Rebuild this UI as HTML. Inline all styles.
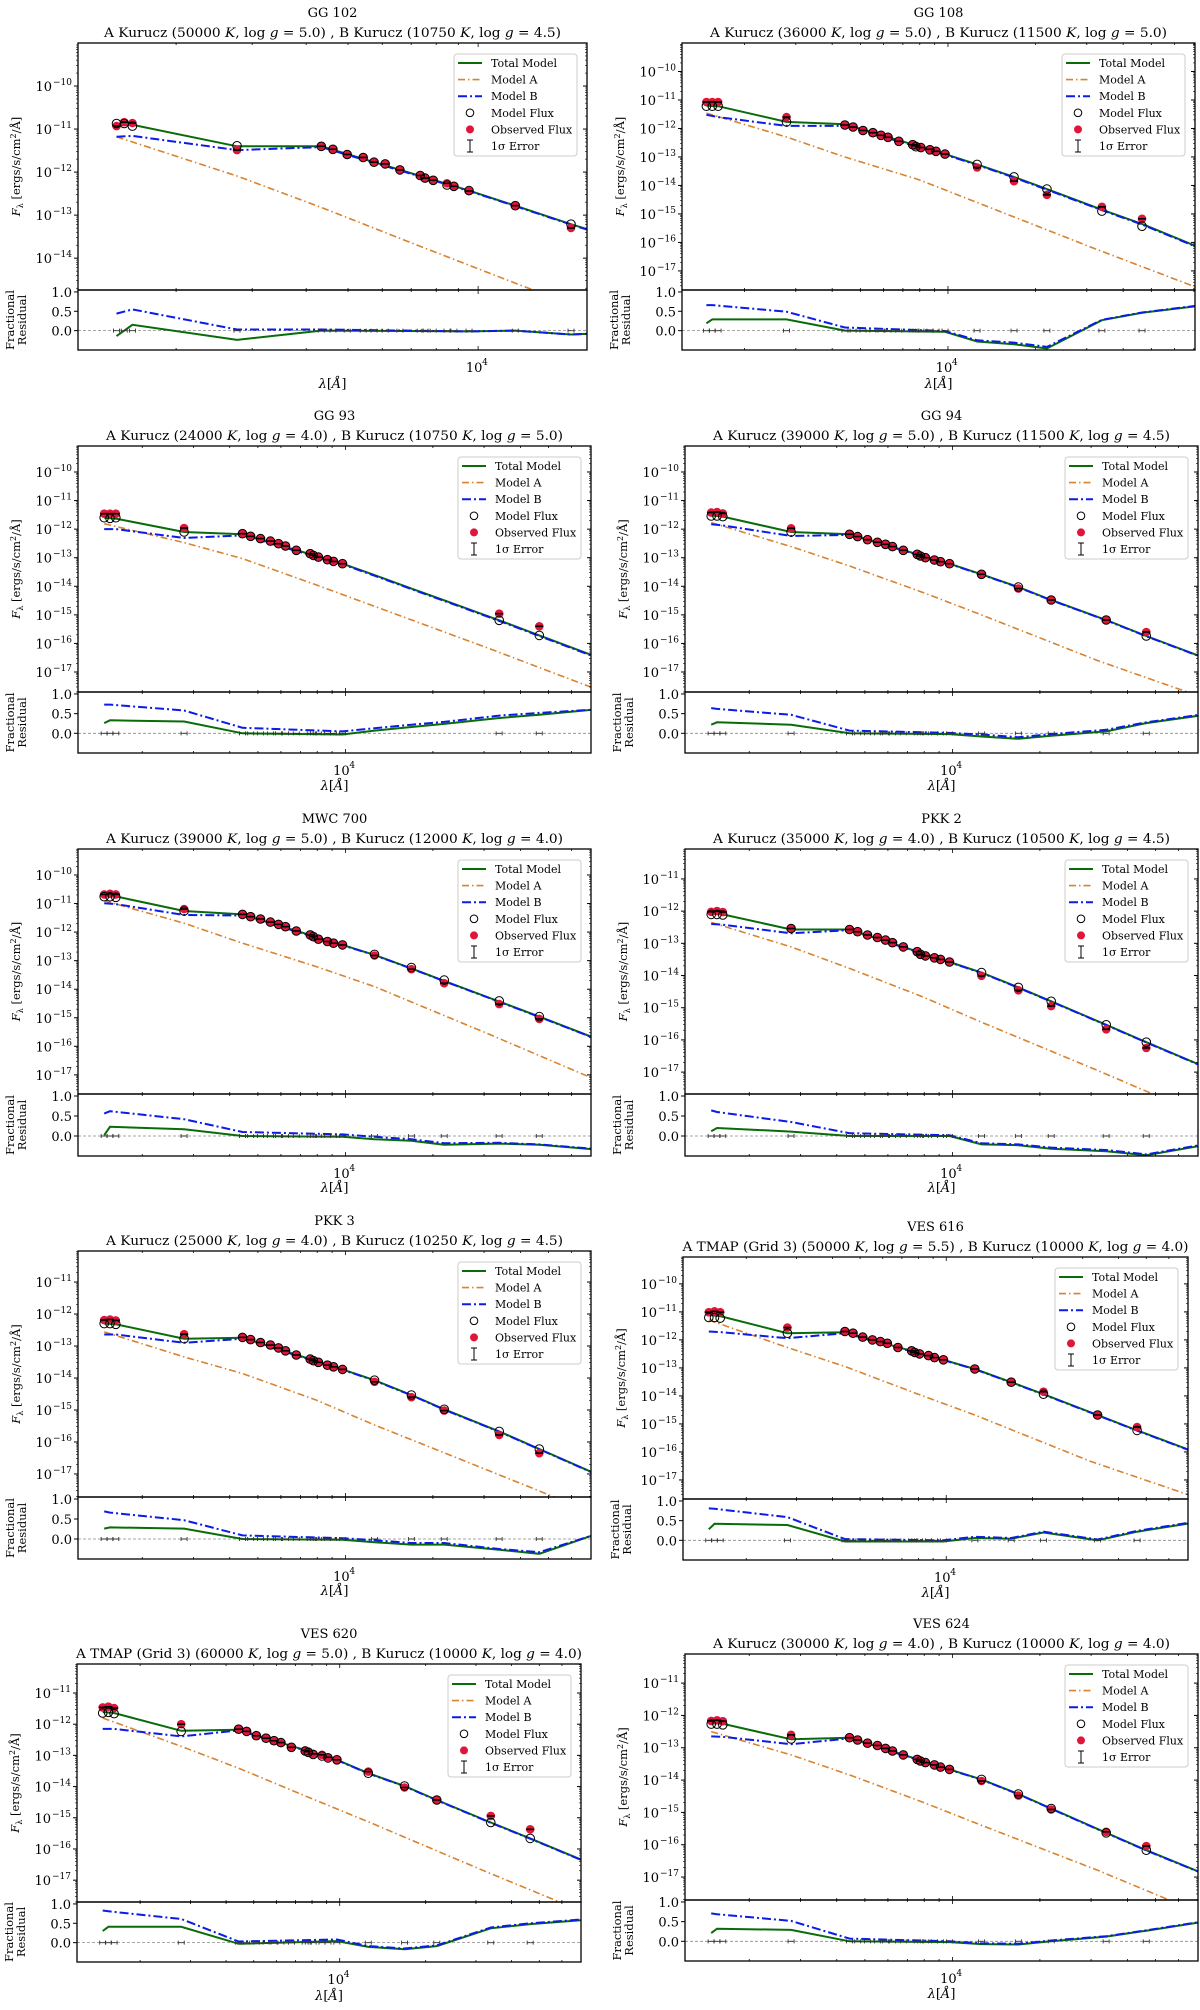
<!DOCTYPE html>
<html><head><meta charset="utf-8"><title>SED fits</title>
<style>
html,body{margin:0;padding:0;background:#fff;}
svg{display:block;font-family:"DejaVu Serif","Liberation Serif",serif;}
</style></head>
<body>
<svg id="chart" xmlns="http://www.w3.org/2000/svg" width="1200" height="2010" viewBox="0 0 1200 2010"></svg>
<script>
// ---------- data (log10 wavelength [A], log10 flux) ----------
const lw_all = [3.17,3.19,3.21,3.445,3.646,3.674,3.708,3.742,3.770,3.794,3.831,3.879,3.890,3.907,3.938,3.959,3.990,4.10,4.227,4.34,4.529,4.667];
const lw_gg102 = [3.163,3.181,3.200,3.442,3.637,3.664,3.697,3.734,3.759,3.785,3.819,3.866,3.877,3.896,3.928,3.944,3.979,4.086,4.215];
const lw_gg93 = [3.17,3.19,3.21,3.445,3.646,3.674,3.708,3.742,3.770,3.794,3.831,3.879,3.890,3.907,3.938,3.959,3.990,4.529,4.667];
const nodes_model = [3.17,3.21,3.445,3.646,3.99,4.10,4.227,4.34,4.529,4.667,4.85];
const nodes_resid = [3.17,3.19,3.445,3.646,3.99,4.10,4.227,4.34,4.529,4.667,4.85];
const nodes_A = [3.17,3.445,3.646,3.9,4.1,4.5,4.85];
const nodes_model_gg102 = [3.163,3.200,3.442,3.637,3.979,4.086,4.215,4.26];
const nodes_A_gg102 = [3.163,3.442,3.637,3.87,4.127,4.26];
const resTicks = [1.0,0.5,0.0];
const resTickLabels = ["1.0","0.5","0.0"];

const obs_gg102 = [-10.93,-10.84,-10.86,-11.49,-11.40,-11.47,-11.59,-11.66,-11.77,-11.81,-11.95,-12.08,-12.14,-12.19,-12.26,-12.33,-12.44,-12.78,-13.30];
const mod_gg102 = [-10.87,-10.87,-10.93,-11.39,-11.40,-11.47,-11.59,-11.66,-11.77,-11.81,-11.95,-12.08,-12.14,-12.19,-12.30,-12.33,-12.43,-12.78,-13.21];
const tot_gg102 = [-10.91,-10.9,-11.4,-11.4,-12.43,-12.78,-13.21,-13.35];
const B_gg102 = [-11.18,-11.16,-11.49,-11.42,-12.44,-12.79,-13.22,-13.36];
const A_gg102 = [-11.18,-12.09,-12.82,-13.74,-14.74,-15.2];
const rtot_gg102 = [-0.14,0.15,-0.24,0.0,-0.02,0.0,-0.1,-0.08];
const rB_gg102 = [0.44,0.55,0.03,0.03,-0.02,0.0,-0.1,-0.08];

const obs_gg108 = [-11.07,-11.07,-11.07,-11.6,-11.88,-11.95,-12.07,-12.15,-12.24,-12.31,-12.45,-12.57,-12.61,-12.67,-12.73,-12.80,-12.9,-13.37,-13.85,-14.33,-14.75,-15.17];
const mod_gg108 = [-11.22,-11.22,-11.22,-11.77,-11.88,-11.95,-12.07,-12.15,-12.24,-12.31,-12.45,-12.57,-12.64,-12.67,-12.75,-12.80,-12.9,-13.26,-13.70,-14.13,-14.9,-15.43];
const tot_gg108 = [-11.2,-11.22,-11.77,-11.85,-12.9,-13.26,-13.7,-14.13,-14.85,-15.35,-16.12];
const B_gg108 = [-11.52,-11.6,-11.91,-11.91,-12.92,-13.28,-13.72,-14.15,-14.87,-15.37,-16.14];
const A_gg108 = [-11.46,-12.3,-13.0,-13.8,-14.6,-16.2,-17.56];
const rtot_gg108 = [0.19,0.29,0.29,0,-0.03,-0.28,-0.35,-0.46,0.27,0.46,0.63];
const rB_gg108 = [0.66,0.66,0.49,0.08,-0.01,-0.25,-0.31,-0.42,0.28,0.47,0.64];

const obs_gg93 = [-11.46,-11.46,-11.46,-11.96,-12.16,-12.25,-12.33,-12.42,-12.51,-12.59,-12.74,-12.86,-12.92,-12.98,-13.07,-13.13,-13.21,-14.96,-15.40];
const mod_gg93 = [-11.6,-11.62,-11.6,-12.1,-12.16,-12.25,-12.33,-12.42,-12.51,-12.59,-12.74,-12.86,-12.92,-12.98,-13.07,-13.13,-13.21,-15.19,-15.72];
const tot_gg93 = [-11.6,-11.63,-12.1,-12.18,-13.21,-13.61,-14.08,-14.49,-15.19,-15.72,-16.42];
const B_gg93 = [-12.0,-12.0,-12.31,-12.22,-13.23,-13.63,-14.1,-14.51,-15.21,-15.74,-16.44];
const A_gg93 = [-11.81,-12.47,-13.03,-13.95,-14.7,-16.2,-17.55];
const rtot_gg93 = [0.26,0.33,0.3,0,-0.03,0.07,0.16,0.24,0.39,0.47,0.6];
const rB_gg93 = [0.73,0.73,0.58,0.14,0.05,0.13,0.22,0.29,0.45,0.52,0.6];

const obs_gg94 = [-11.42,-11.40,-11.45,-11.97,-12.18,-12.26,-12.37,-12.46,-12.53,-12.61,-12.74,-12.88,-12.94,-13.0,-13.08,-13.14,-13.21,-13.58,-14.08,-14.48,-15.18,-15.6];
const mod_gg94 = [-11.54,-11.54,-11.56,-12.1,-12.18,-12.26,-12.37,-12.46,-12.53,-12.61,-12.74,-12.88,-12.94,-13.0,-13.08,-13.14,-13.21,-13.58,-14.03,-14.48,-15.18,-15.74];
const tot_gg94 = [-11.52,-11.56,-12.1,-12.18,-13.21,-13.58,-14.03,-14.48,-15.18,-15.74,-16.44];
const B_gg94 = [-11.83,-11.87,-12.24,-12.2,-13.22,-13.59,-14.04,-14.49,-15.19,-15.75,-16.45];
const A_gg94 = [-11.77,-12.61,-13.29,-14.22,-15.0,-16.6,-17.85];
const rtot_gg94 = [0.22,0.28,0.22,0,-0.02,-0.08,-0.14,-0.06,0.05,0.26,0.45];
const rB_gg94 = [0.64,0.62,0.47,0.07,0.01,-0.03,-0.1,-0.02,0.09,0.28,0.47];

const obs_mwc700 = [-10.68,-10.66,-10.68,-11.19,-11.38,-11.46,-11.54,-11.65,-11.73,-11.81,-11.96,-12.1,-12.16,-12.25,-12.33,-12.39,-12.45,-12.82,-13.30,-13.79,-14.52,-15.04];
const mod_mwc700 = [-10.76,-10.76,-10.78,-11.26,-11.38,-11.46,-11.54,-11.65,-11.73,-11.81,-11.96,-12.1,-12.16,-12.25,-12.33,-12.39,-12.45,-12.78,-13.24,-13.68,-14.41,-14.96];
const tot_mwc700 = [-10.68,-10.75,-11.26,-11.38,-12.45,-12.8,-13.27,-13.71,-14.43,-14.96,-15.68];
const B_mwc700 = [-10.99,-11.02,-11.4,-11.42,-12.46,-12.81,-13.28,-13.72,-14.44,-14.97,-15.69];
const A_mwc700 = [-10.9,-11.69,-12.39,-13.21,-13.91,-15.6,-17.12];
const rtot_mwc700 = [0.02,0.23,0.17,0,-0.02,-0.08,-0.12,-0.22,-0.19,-0.22,-0.33];
const rB_mwc700 = [0.56,0.62,0.42,0.1,0.04,-0.02,-0.08,-0.18,-0.17,-0.21,-0.32];

const obs_pkk2 = [-12.02,-12.0,-12.03,-12.54,-12.57,-12.64,-12.74,-12.82,-12.9,-12.98,-13.11,-13.26,-13.34,-13.39,-13.45,-13.5,-13.58,-14.01,-14.46,-14.95,-15.67,-16.25];
const mod_pkk2 = [-12.1,-12.1,-12.12,-12.54,-12.57,-12.64,-12.74,-12.82,-12.9,-12.98,-13.11,-13.26,-13.34,-13.39,-13.45,-13.5,-13.58,-13.91,-14.37,-14.8,-15.53,-16.07];
const tot_pkk2 = [-12.07,-12.1,-12.57,-12.57,-13.58,-13.91,-14.37,-14.8,-15.53,-16.07,-16.77];
const B_pkk2 = [-12.4,-12.42,-12.69,-12.59,-13.59,-13.92,-14.38,-14.81,-15.54,-16.08,-16.78];
const A_pkk2 = [-12.35,-13.11,-13.78,-14.67,-15.45,-16.95,-18.3];
const rtot_pkk2 = [0.12,0.2,0.11,0,0,-0.21,-0.23,-0.32,-0.38,-0.48,-0.25];
const rB_pkk2 = [0.64,0.6,0.35,0.07,0.02,-0.18,-0.21,-0.29,-0.35,-0.46,-0.23];

const obs_pkk3 = [-12.19,-12.17,-12.2,-12.63,-12.73,-12.8,-12.89,-12.97,-13.06,-13.15,-13.28,-13.41,-13.46,-13.51,-13.6,-13.65,-13.73,-14.12,-14.6,-15.02,-15.78,-16.35];
const mod_pkk3 = [-12.3,-12.3,-12.32,-12.77,-12.73,-12.8,-12.89,-12.97,-13.06,-13.15,-13.28,-13.41,-13.46,-13.51,-13.6,-13.65,-13.73,-14.07,-14.53,-14.98,-15.67,-16.22];
const tot_pkk3 = [-12.3,-12.32,-12.77,-12.74,-13.73,-14.07,-14.53,-14.98,-15.67,-16.22,-16.95];
const B_pkk3 = [-12.64,-12.64,-12.9,-12.77,-13.74,-14.08,-14.54,-14.99,-15.68,-16.23,-16.96];
const A_pkk3 = [-12.56,-13.34,-13.86,-14.69,-15.47,-16.92,-18.2];
const rtot_pkk3 = [0.26,0.29,0.26,0,-0.02,-0.08,-0.14,-0.14,-0.27,-0.37,0.09];
const rB_pkk3 = [0.69,0.66,0.47,0.09,0.02,-0.03,-0.1,-0.1,-0.25,-0.33,0.09];

const obs_ves616 = [-11.01,-10.98,-11.01,-11.56,-11.70,-11.76,-11.9,-12.0,-12.06,-12.12,-12.27,-12.39,-12.45,-12.5,-12.56,-12.63,-12.71,-13.04,-13.51,-13.85,-14.68,-15.11];
const mod_ves616 = [-11.2,-11.2,-11.22,-11.76,-11.70,-11.76,-11.9,-12.0,-12.06,-12.12,-12.27,-12.39,-12.45,-12.5,-12.56,-12.63,-12.71,-13.04,-13.51,-13.94,-14.68,-15.23];
const tot_ves616 = [-11.11,-11.15,-11.76,-11.73,-12.71,-13.04,-13.51,-13.94,-14.68,-15.23,-15.93];
const B_ves616 = [-11.7,-11.72,-11.94,-11.76,-12.72,-13.05,-13.52,-13.95,-14.69,-15.24,-15.94];
const A_ves616 = [-11.29,-12.27,-12.95,-13.93,-14.68,-16.32,-17.54];
const rtot_ves616 = [0.28,0.42,0.39,-0.03,-0.03,0.06,0.04,0.2,0,0.22,0.43];
const rB_ves616 = [0.81,0.8,0.59,0.03,0.0,0.09,0.06,0.22,0.02,0.24,0.45];

const obs_ves620 = [-11.46,-11.44,-11.48,-12.0,-12.16,-12.23,-12.37,-12.45,-12.53,-12.59,-12.74,-12.84,-12.88,-12.95,-12.98,-13.06,-13.14,-13.52,-14.03,-14.43,-14.94,-15.37];
const mod_ves620 = [-11.64,-11.62,-11.66,-12.23,-12.16,-12.23,-12.37,-12.45,-12.53,-12.59,-12.74,-12.86,-12.9,-12.97,-13.02,-13.08,-13.14,-13.57,-13.98,-14.43,-15.15,-15.66];
const tot_ves620 = [-11.61,-11.64,-12.21,-12.18,-13.14,-13.57,-13.98,-14.43,-15.15,-15.66,-16.36];
const B_ves620 = [-12.15,-12.15,-12.39,-12.2,-13.15,-13.58,-13.99,-14.44,-15.16,-15.67,-16.37];
const A_ves620 = [-11.8,-12.71,-13.41,-14.38,-15.13,-16.68,-18.0];
const rtot_ves620 = [0.3,0.41,0.41,-0.03,0.04,-0.11,-0.17,-0.09,0.37,0.48,0.58];
const rB_ves620 = [0.83,0.81,0.61,0.03,0.08,-0.09,-0.15,-0.07,0.39,0.5,0.6];

const obs_ves624 = [-12.17,-12.15,-12.18,-12.6,-12.69,-12.76,-12.86,-12.93,-13.02,-13.1,-13.22,-13.36,-13.41,-13.46,-13.53,-13.6,-13.67,-14.03,-14.48,-14.91,-15.6,-16.04];
const mod_ves624 = [-12.27,-12.27,-12.29,-12.73,-12.69,-12.76,-12.86,-12.93,-13.02,-13.1,-13.22,-13.36,-13.41,-13.46,-13.53,-13.6,-13.67,-13.98,-14.43,-14.88,-15.63,-16.17];
const tot_ves624 = [-12.24,-12.26,-12.74,-12.69,-13.67,-13.98,-14.43,-14.88,-15.63,-16.17,-16.84];
const B_ves624 = [-12.65,-12.66,-12.89,-12.71,-13.68,-13.99,-14.44,-14.89,-15.64,-16.18,-16.85];
const A_ves624 = [-12.5,-13.22,-13.84,-14.69,-15.4,-16.79,-18.1];
const rtot_ves624 = [0.21,0.32,0.29,0,-0.02,-0.07,-0.08,0,0.12,0.27,0.48];
const rB_ves624 = [0.71,0.69,0.52,0.07,0.0,-0.05,-0.06,0.02,0.13,0.28,0.49];

const names = ["GG 102","GG 108","GG 93","GG 94","MWC 700","PKK 2","PKK 3","VES 616","VES 620","VES 624"];
const subtitles = [
 "A Kurucz (50000 K, log g = 5.0) , B Kurucz (10750 K, log g = 4.5)",
 "A Kurucz (36000 K, log g = 5.0) , B Kurucz (11500 K, log g = 5.0)",
 "A Kurucz (24000 K, log g = 4.0) , B Kurucz (10750 K, log g = 5.0)",
 "A Kurucz (39000 K, log g = 5.0) , B Kurucz (11500 K, log g = 4.5)",
 "A Kurucz (39000 K, log g = 5.0) , B Kurucz (12000 K, log g = 4.0)",
 "A Kurucz (35000 K, log g = 4.0) , B Kurucz (10500 K, log g = 4.5)",
 "A Kurucz (25000 K, log g = 4.0) , B Kurucz (10250 K, log g = 4.5)",
 "A TMAP (Grid 3) (50000 K, log g = 5.5) , B Kurucz (10000 K, log g = 4.0)",
 "A TMAP (Grid 3) (60000 K, log g = 5.0) , B Kurucz (10000 K, log g = 4.0)",
 "A Kurucz (30000 K, log g = 4.0) , B Kurucz (10000 K, log g = 4.0)"
];
const legendLabels = ["Total Model","Model A","Model B","Model Flux","Observed Flux","1σ Error"];

// ---------- layout (geometry only) ----------
const panels = [
 {id:"gg102", L:78, R:587, T:43, MB:290, RB:350, yT:-9.0, yB:-14.74, xmin:3.074, xmax:4.252, lw:lw_gg102, obs:obs_gg102, mod:mod_gg102, nM:nodes_model_gg102, tot:tot_gg102, B:B_gg102, nA:nodes_A_gg102, A:A_gg102, nR:nodes_model_gg102, rT:rtot_gg102, rB:rB_gg102},
 {id:"gg108", L:682, R:1195, T:43, MB:290, RB:350, yT:-9.0, yB:-17.67, xmin:3.086, xmax:4.849, lw:lw_all, obs:obs_gg108, mod:mod_gg108, nM:nodes_model, tot:tot_gg108, B:B_gg108, nA:nodes_A, A:A_gg108, nR:nodes_resid, rT:rtot_gg108, rB:rB_gg108},
 {id:"gg93", L:78, R:591, T:446, MB:692, RB:753, yT:-9.09, yB:-17.7, xmin:3.08, xmax:4.845, lw:lw_gg93, obs:obs_gg93, mod:mod_gg93, nM:nodes_model, tot:tot_gg93, B:B_gg93, nA:nodes_A, A:A_gg93, nR:nodes_resid, rT:rtot_gg93, rB:rB_gg93},
 {id:"gg94", L:685, R:1198, T:446, MB:692, RB:753, yT:-9.09, yB:-17.7, xmin:3.08, xmax:4.845, lw:lw_all, obs:obs_gg94, mod:mod_gg94, nM:nodes_model, tot:tot_gg94, B:B_gg94, nA:nodes_A, A:A_gg94, nR:nodes_resid, rT:rtot_gg94, rB:rB_gg94},
 {id:"mwc700", L:78, R:591, T:849, MB:1094, RB:1156, yT:-9.09, yB:-17.67, xmin:3.08, xmax:4.845, lw:lw_all, obs:obs_mwc700, mod:mod_mwc700, nM:nodes_model, tot:tot_mwc700, B:B_mwc700, nA:nodes_A, A:A_mwc700, nR:nodes_resid, rT:rtot_mwc700, rB:rB_mwc700},
 {id:"pkk2", L:685, R:1198, T:849, MB:1094, RB:1156, yT:-10.07, yB:-17.68, xmin:3.08, xmax:4.845, lw:lw_all, obs:obs_pkk2, mod:mod_pkk2, nM:nodes_model, tot:tot_pkk2, B:B_pkk2, nA:nodes_A, A:A_pkk2, nR:nodes_resid, rT:rtot_pkk2, rB:rB_pkk2},
 {id:"pkk3", L:78, R:591, T:1251, MB:1497, RB:1559, yT:-10.03, yB:-17.72, xmin:3.08, xmax:4.845, lw:lw_all, obs:obs_pkk3, mod:mod_pkk3, nM:nodes_model, tot:tot_pkk3, B:B_pkk3, nA:nodes_A, A:A_pkk3, nR:nodes_resid, rT:rtot_pkk3, rB:rB_pkk3},
 {id:"ves616", L:683, R:1188, T:1257, MB:1499, RB:1560, yT:-9.04, yB:-17.68, xmin:3.08, xmax:4.845, lw:lw_all, obs:obs_ves616, mod:mod_ves616, nM:nodes_model, tot:tot_ves616, B:B_ves616, nA:nodes_A, A:A_ves616, nR:nodes_resid, rT:rtot_ves616, rB:rB_ves616},
 {id:"ves620", L:77, R:581, T:1664, MB:1902, RB:1962, yT:-10.07, yB:-17.7, xmin:3.08, xmax:4.845, lw:lw_all, obs:obs_ves620, mod:mod_ves620, nM:nodes_model, tot:tot_ves620, B:B_ves620, nA:nodes_A, A:A_ves620, nR:nodes_resid, rT:rtot_ves620, rB:rB_ves620},
 {id:"ves624", L:685, R:1198, T:1654, MB:1900, RB:1961, yT:-10.1, yB:-17.71, xmin:3.08, xmax:4.845, lw:lw_all, obs:obs_ves624, mod:mod_ves624, nM:nodes_model, tot:tot_ves624, B:B_ves624, nA:nodes_A, A:A_ves624, nR:nodes_resid, rT:rtot_ves624, rB:rB_ves624}
];

const NS = "http://www.w3.org/2000/svg";
const svg = document.getElementById("chart");
function mk(tag, attrs, parent){ const e = document.createElementNS(NS, tag); for (const k in attrs) e.setAttribute(k, attrs[k]); (parent || svg).appendChild(e); return e; }
const GREEN = "#0a6b0a", ORANGE = "#d8832f", BLUE = "#0b1be8", RED = "#e0153a";

panels.forEach((p, i) => {
  const g = mk("g", {});
  
  
  const xS = v => p.L + (v - p.xmin) / (p.xmax - p.xmin) * (p.R - p.L);
  const yS = v => p.T + (p.yT - v) / (p.yT - p.yB) * (p.MB - p.T);
  const rS = v => p.MB + (1.05 - v) / 1.55 * (p.RB - p.MB);
  const cx = (p.L + p.R) / 2;

  const defs = mk("defs", {}, g);
  const c1 = mk("clipPath", {id: "cm" + i}, defs); mk("rect", {x: p.L, y: p.T, width: p.R - p.L, height: p.MB - p.T}, c1);
  const c2 = mk("clipPath", {id: "cr" + i}, defs); mk("rect", {x: p.L, y: p.MB, width: p.R - p.L, height: p.RB - p.MB}, c2);

  const t1 = mk("text", {x: cx, y: p.T - 26, "text-anchor": "middle", "font-size": 13}, g);
  t1.textContent = names[i];
  
  
  const sub = subtitles[i];
  const t2 = mk("text", {x: cx, y: p.T - 6, "text-anchor": "middle", "font-size": 13, textLength: (sub.length * 7.03).toFixed(0), lengthAdjust: "spacingAndGlyphs"}, g);
  t2.innerHTML = sub.replace(/ K,/g, ' <tspan font-style="italic">K</tspan>,').replace(/log g/g, 'log <tspan font-style="italic">g</tspan>');
  
  

  const lines = mk("g", {"clip-path": "url(#cm" + i + ")"}, g);
  const path = (xs, ys, f) => xs.map((x, k) => (k ? "L" : "M") + xS(x).toFixed(1) + "," + f(ys[k]).toFixed(1)).join(" ");
  const la = mk("path", {d: path(p.nA, p.A, yS), fill: "none", stroke: ORANGE, "stroke-width": 1.6, "stroke-dasharray": "7,3,1.5,3"}, lines);
  
  
  const lt = mk("path", {d: path(p.nM, p.tot, yS), fill: "none", stroke: GREEN, "stroke-width": 2}, lines);
  
  
  const lb = mk("path", {d: path(p.nM, p.B, yS), fill: "none", stroke: BLUE, "stroke-width": 2, "stroke-dasharray": "9,3,2,3"}, lines);
  
  

  p.lw.forEach((w, k) => {
    const o = mk("circle", {cx: xS(w).toFixed(1), cy: yS(p.obs[k]).toFixed(1), r: 4.3, fill: RED}, lines);
    
    
  });
  p.lw.forEach((w, k) => {
    const m = mk("circle", {cx: xS(w).toFixed(1), cy: yS(p.mod[k]).toFixed(1), r: 4.3, fill: "none", stroke: "#000", "stroke-width": 1}, lines);
    
    
    const e = mk("line", {x1: xS(w) - 4, x2: xS(w) + 4, y1: yS(p.obs[k]), y2: yS(p.obs[k]), stroke: "#000", "stroke-width": 1.6}, lines);
    
    
  });

  const rg = mk("g", {"clip-path": "url(#cr" + i + ")"}, g);
  mk("line", {x1: p.L, x2: p.R, y1: rS(0), y2: rS(0), stroke: "#888", "stroke-width": 0.8, "stroke-dasharray": "3,2"}, rg);
  const rt = mk("path", {d: path(p.nR, p.rT, rS), fill: "none", stroke: GREEN, "stroke-width": 2}, rg);
  
  
  const rb = mk("path", {d: path(p.nR, p.rB, rS), fill: "none", stroke: BLUE, "stroke-width": 2, "stroke-dasharray": "9,3,2,3"}, rg);
  
  
  p.lw.forEach(w => {
    const x = xS(w), y = rS(0);
    const e = mk("path", {d: `M${x-3},${y}L${x+3},${y}M${x-3},${y-2}L${x-3},${y+2}M${x+3},${y-2}L${x+3},${y+2}`, stroke: "#333", "stroke-width": 0.9, fill: "none"}, rg);
    
    
  });

  const f1 = mk("rect", {x: p.L, y: p.T, width: p.R - p.L, height: p.MB - p.T, fill: "none", stroke: "#000", "stroke-width": 1.3}, g);
  
  
  const f2 = mk("rect", {x: p.L, y: p.MB, width: p.R - p.L, height: p.RB - p.MB, fill: "none", stroke: "#000", "stroke-width": 1.3}, g);
  
  

  for (let d = Math.floor(p.yT - 0.05); d >= Math.ceil(p.yB); d--) {
    const y = yS(d);
    mk("line", {x1: p.L - 4, x2: p.L, y1: y, y2: y, stroke: "#000", "stroke-width": 1}, g);
    mk("line", {x1: p.R - 4, x2: p.R, y1: y, y2: y, stroke: "#000", "stroke-width": 1}, g);
    const t = mk("text", {x: p.L - 26, y: y + 5, "text-anchor": "end", "font-size": 13}, g);
    t.textContent = '10';
    
    
    const s = mk("text", {x: p.L - 25, y: y - 1, "text-anchor": "start", "font-size": 9}, g);
    s.textContent = "\u2212" + (-d);
    
    
  }
  for (let d = Math.floor(p.yT) + 1; d >= Math.ceil(p.yB) - 1; d--) {
    for (let m = 2; m <= 9; m++) {
      const v = d + Math.log10(m);
      if (v < p.yT && v > p.yB) { const ym = yS(v); mk("line", {x1: p.L - 2, x2: p.L, y1: ym, y2: ym, stroke: "#000", "stroke-width": 0.6}, g); mk("line", {x1: p.R - 2, x2: p.R, y1: ym, y2: ym, stroke: "#000", "stroke-width": 0.6}, g); }
    }
  }
  resTicks.forEach((v, k) => {
    const y = rS(v);
    mk("line", {x1: p.L - 4, x2: p.L, y1: y, y2: y, stroke: "#000", "stroke-width": 1}, g);
    const t = mk("text", {x: p.L - 6, y: y + 5, "text-anchor": "end", "font-size": 13}, g);
    t.textContent = resTickLabels[k];
    
    
  });
  for (let d = 3; d <= 4; d++) for (let m = 1; m <= 9; m++) {
    const v = d + Math.log10(m);
    if (v <= p.xmin || v >= p.xmax) continue;
    const x = xS(v), len = m === 1 ? 4 : 2;
    mk("line", {x1: x, x2: x, y1: p.RB, y2: p.RB - len, stroke: "#000", "stroke-width": 0.8}, g);
    mk("line", {x1: x, x2: x, y1: p.MB, y2: p.MB + len, stroke: "#000", "stroke-width": 0.8}, g);
    mk("line", {x1: x, x2: x, y1: p.MB, y2: p.MB - len, stroke: "#000", "stroke-width": 0.8}, g);
    mk("line", {x1: x, x2: x, y1: p.T, y2: p.T + len, stroke: "#000", "stroke-width": 0.8}, g);
  }
  const x4 = xS(4);
  const xt = mk("text", {x: x4 - 4, y: p.RB + 22, "text-anchor": "middle", "font-size": 13}, g);
  xt.textContent = "10";
  
  
  const xe = mk("text", {x: x4 + 4, y: p.RB + 15, "font-size": 9}, g);
  xe.textContent = "4";
  
  

  const xl = mk("text", {x: cx, y: p.MB + 98, "text-anchor": "middle", "font-size": 13}, g);
  xl.innerHTML = '<tspan font-style="italic">λ</tspan>[<tspan font-style="italic">Å</tspan>]';
  
  
  const ym = (p.T + p.MB) / 2;
  const yl = mk("text", {x: p.L - 58, y: ym, "text-anchor": "middle", "font-size": 11.5, transform: `rotate(-90 ${p.L - 58} ${ym})`}, g);
  yl.innerHTML = '<tspan font-style="italic">F</tspan><tspan font-size="8" dy="3">λ</tspan><tspan dy="-3"> [ergs/s/cm</tspan><tspan font-size="8" dy="-4">2</tspan><tspan dy="4">/Å]</tspan>';
  
  
  const rm = (p.MB + p.RB) / 2;
  const rl1 = mk("text", {x: p.L - 64, y: rm, "text-anchor": "middle", "font-size": 11.5, transform: `rotate(-90 ${p.L - 64} ${rm})`}, g);
  rl1.textContent = "Fractional";
  
  
  const rl2 = mk("text", {x: p.L - 52, y: rm, "text-anchor": "middle", "font-size": 11.5, transform: `rotate(-90 ${p.L - 52} ${rm})`}, g);
  rl2.textContent = "Residual";
  
  

  const lx = p.R - 133, ly = p.T + 11;
  const lg = mk("g", {}, g);
  
  
  mk("rect", {x: lx, y: ly, width: 123, height: 102, rx: 3, fill: "#fff", "fill-opacity": 0.9, stroke: "#ccc", "stroke-width": 1}, lg);
  legendLabels.forEach((lab, k) => {
    const yy = ly + 9 + k * 16.6;
    const it = mk("g", {}, lg);
    
    
    if (k === 0) mk("line", {x1: lx + 4, x2: lx + 28, y1: yy, y2: yy, stroke: GREEN, "stroke-width": 2}, it);
    if (k === 1) mk("line", {x1: lx + 4, x2: lx + 28, y1: yy, y2: yy, stroke: ORANGE, "stroke-width": 1.6, "stroke-dasharray": "7,3,1.5,3"}, it);
    if (k === 2) mk("line", {x1: lx + 4, x2: lx + 28, y1: yy, y2: yy, stroke: BLUE, "stroke-width": 2, "stroke-dasharray": "9,3,2,3"}, it);
    if (k === 3) mk("circle", {cx: lx + 16, cy: yy, r: 3.8, fill: "none", stroke: "#000"}, it);
    if (k === 4) mk("circle", {cx: lx + 16, cy: yy, r: 4, fill: RED}, it);
    if (k === 5) mk("path", {d: `M${lx+16},${yy-6}V${yy+6}M${lx+13},${yy-6}H${lx+19}M${lx+13},${yy+6}H${lx+19}`, stroke: "#000", "stroke-width": 1, fill: "none"}, it);
    const t = mk("text", {x: lx + 37, y: yy + 4, "font-size": 11}, it);
    t.textContent = lab;
  });
});
</script>
</body></html>
